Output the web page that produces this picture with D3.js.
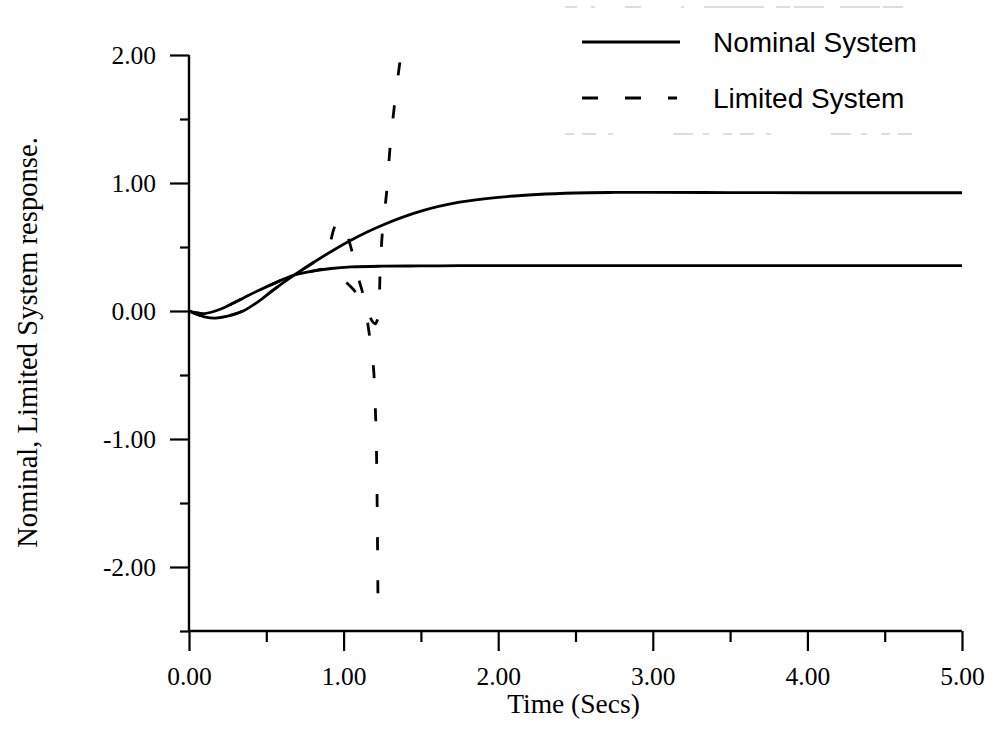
<!DOCTYPE html>
<html>
<head>
<meta charset="utf-8">
<script src="https://cdn.jsdelivr.net/npm/d3@7"></script>
<style>
  html, body { margin: 0; padding: 0; background: #fff; }
  svg { display: block; }
</style>
</head>
<body>
<svg id="chart" width="992" height="730"></svg>
<script>
// ---- Data ----
const time = [0, 0.05, 0.1, 0.17, 0.25, 0.35, 0.45, 0.54, 0.68, 0.8, 0.92, 1.05, 1.25, 1.5, 1.75, 2.0, 2.25, 2.5, 2.75, 3.0, 3.5, 4.0, 4.5, 5.0];
const nominalHigh = [0, -0.025, -0.045, -0.055, -0.04, 0.0, 0.075, 0.16, 0.28, 0.375, 0.465, 0.555, 0.67, 0.78, 0.85, 0.888, 0.91, 0.922, 0.926, 0.927, 0.925, 0.924, 0.924, 0.924];
const nominalLow = [0, -0.015, -0.02, 0.0, 0.04, 0.1, 0.16, 0.21, 0.28, 0.312, 0.332, 0.344, 0.35, 0.352, 0.354, 0.355, 0.355, 0.355, 0.355, 0.355, 0.355, 0.355, 0.355, 0.355];

const limitedTimeHigh = [0, 0.05, 0.1, 0.17, 0.25, 0.35, 0.45, 0.54, 0.68, 0.8, 0.85, 0.9, 0.94, 0.97, 1.0, 1.03, 1.06, 1.1, 1.13, 1.16, 1.18, 1.195, 1.205, 1.212, 1.217, 1.222];
const limitedHigh = [0, -0.025, -0.045, -0.055, -0.04, 0.0, 0.075, 0.16, 0.28, 0.375, 0.415, 0.49, 0.65, 0.71, 0.68, 0.57, 0.44, 0.24, 0.11, -0.13, -0.3, -0.47, -0.75, -1.05, -1.5, -2.22];

const limitedTimeLow = [0, 0.05, 0.1, 0.17, 0.25, 0.35, 0.45, 0.54, 0.68, 0.8, 0.88, 0.93, 0.97, 1.0, 1.05, 1.1, 1.13, 1.16, 1.185, 1.205, 1.218, 1.228, 1.236, 1.25, 1.28, 1.3, 1.33, 1.37];
const limitedLow = [0, -0.015, -0.02, 0.0, 0.04, 0.1, 0.16, 0.21, 0.28, 0.312, 0.33, 0.325, 0.285, 0.245, 0.185, 0.115, 0.065, -0.01, -0.08, -0.1, -0.07, 0.0, 0.3, 0.6, 0.95, 1.27, 1.62, 2.0];

const xMajorTicks = [0, 1, 2, 3, 4, 5];
const xMinorTicks = [0.5, 1.5, 2.5, 3.5, 4.5];
const yMajorTicks = [-2, -1, 0, 1, 2];
const yMinorTicks = [-2.5, -1.5, -0.5, 0.5, 1.5];

const xTitle = "Time (Secs)";
const yTitle = "Nominal, Limited System response.";
const legendLabels = ["Nominal System", "Limited System"];

// ---- Layout ----
const svg = d3.select("#chart");
const x = d3.scaleLinear().domain([0, 5]).range([189, 962]);
const y = d3.scaleLinear().domain([-2.5, 2]).range([631, 55]);
const fmt = d => d3.format(".2f")(d).replace("\u2212", "-");
const serif = "'Liberation Serif', 'Times New Roman', serif";
const sans = "'Liberation Sans', Arial, sans-serif";

// X axis
const gx = svg.append("g").attr("transform", `translate(0,${y(-2.5)})`);
gx.call(d3.axisBottom(x).tickValues(xMajorTicks).tickSize(20).tickPadding(16).tickFormat(fmt));
const gxm = svg.append("g").attr("transform", `translate(0,${y(-2.5)})`);
gxm.call(d3.axisBottom(x).tickValues(xMinorTicks).tickSize(11).tickFormat(""));
gxm.select(".domain").remove();

// Y axis
const gy = svg.append("g").attr("transform", `translate(${x(0)},0)`);
gy.call(d3.axisLeft(y).tickValues(yMajorTicks).tickSize(19).tickPadding(14).tickFormat(fmt));
const gym = svg.append("g").attr("transform", `translate(${x(0)},0)`);
gym.call(d3.axisLeft(y).tickValues(yMinorTicks).tickSize(9).tickFormat(""));
gym.select(".domain").remove();

[gx, gy, gxm, gym].forEach(g => {
  g.selectAll("path.domain").attr("stroke", "#000").attr("stroke-width", 2.4);
  g.selectAll(".tick line").attr("stroke", "#000").attr("stroke-width", 2.2);
  g.selectAll(".tick text").attr("fill", "#000").style("font-family", serif).style("font-size", "25.5px");
});
gx.select(".domain").attr("d", `M${x(0)},0H${x(5)}`);
gy.select(".domain").attr("d", `M0,${y(2)}V${y(-2.5)}`);

// Axis titles
svg.append("text")
  .attr("x", (x(0) + x(5)) / 2 - 2)
  .attr("y", 713)
  .attr("text-anchor", "middle")
  .attr("fill", "#000")
  .style("font-family", serif)
  .style("font-size", "27.5px")
  .text(xTitle);

svg.append("text")
  .attr("transform", `translate(37,${(137 + 548) / 2}) rotate(-90)`)
  .attr("text-anchor", "middle")
  .attr("fill", "#000")
  .style("font-family", serif)
  .style("font-size", "28.6px")
  .text(yTitle);

// ---- Curves ----
const line = d3.line()
  .x(d => x(d[0]))
  .y(d => y(d[1]))
  .curve(d3.curveCatmullRom.alpha(0.5));

const series = [
  { t: time, v: nominalHigh, dash: null },
  { t: time, v: nominalLow, dash: null },
  { t: limitedTimeHigh, v: limitedHigh, dash: "13,30" },
  { t: limitedTimeLow, v: limitedLow, dash: "13,30" }
];

series.forEach(s => {
  svg.append("path")
    .datum(s.t.map((t, i) => [t, s.v[i]]))
    .attr("fill", "none")
    .attr("stroke", "#000")
    .attr("stroke-width", 2.8)
    .attr("stroke-dasharray", s.dash)
    .attr("d", line);
});

// ---- Legend ----
const legend = svg.append("g");
legend.append("line").attr("x1", 565).attr("x2", 937).attr("y1", 7).attr("y2", 7)
  .attr("stroke", "#bbb").attr("stroke-width", 1.2).attr("stroke-dasharray", "12,14,4,30,16,40,3,20,60");
legend.append("line").attr("x1", 565).attr("x2", 917).attr("y1", 134).attr("y2", 134)
  .attr("stroke", "#bbb").attr("stroke-width", 1.2).attr("stroke-dasharray", "9,8,14,12,5,60,20,10,6,14");

const legendRows = [
  { label: legendLabels[0], y: 42, dash: null, x2: 680 },
  { label: legendLabels[1], y: 98, dash: "16,27", x2: 677 }
];
legendRows.forEach(r => {
  legend.append("line")
    .attr("x1", 582).attr("x2", r.x2)
    .attr("y1", r.y).attr("y2", r.y)
    .attr("stroke", "#000").attr("stroke-width", 2.8)
    .attr("stroke-dasharray", r.dash);
  legend.append("text")
    .attr("x", 713).attr("y", r.y + 10)
    .style("font-family", sans)
    .style("font-size", "28px")
    .attr("fill", "#000")
    .text(r.label);
});
</script>
</body>
</html>
